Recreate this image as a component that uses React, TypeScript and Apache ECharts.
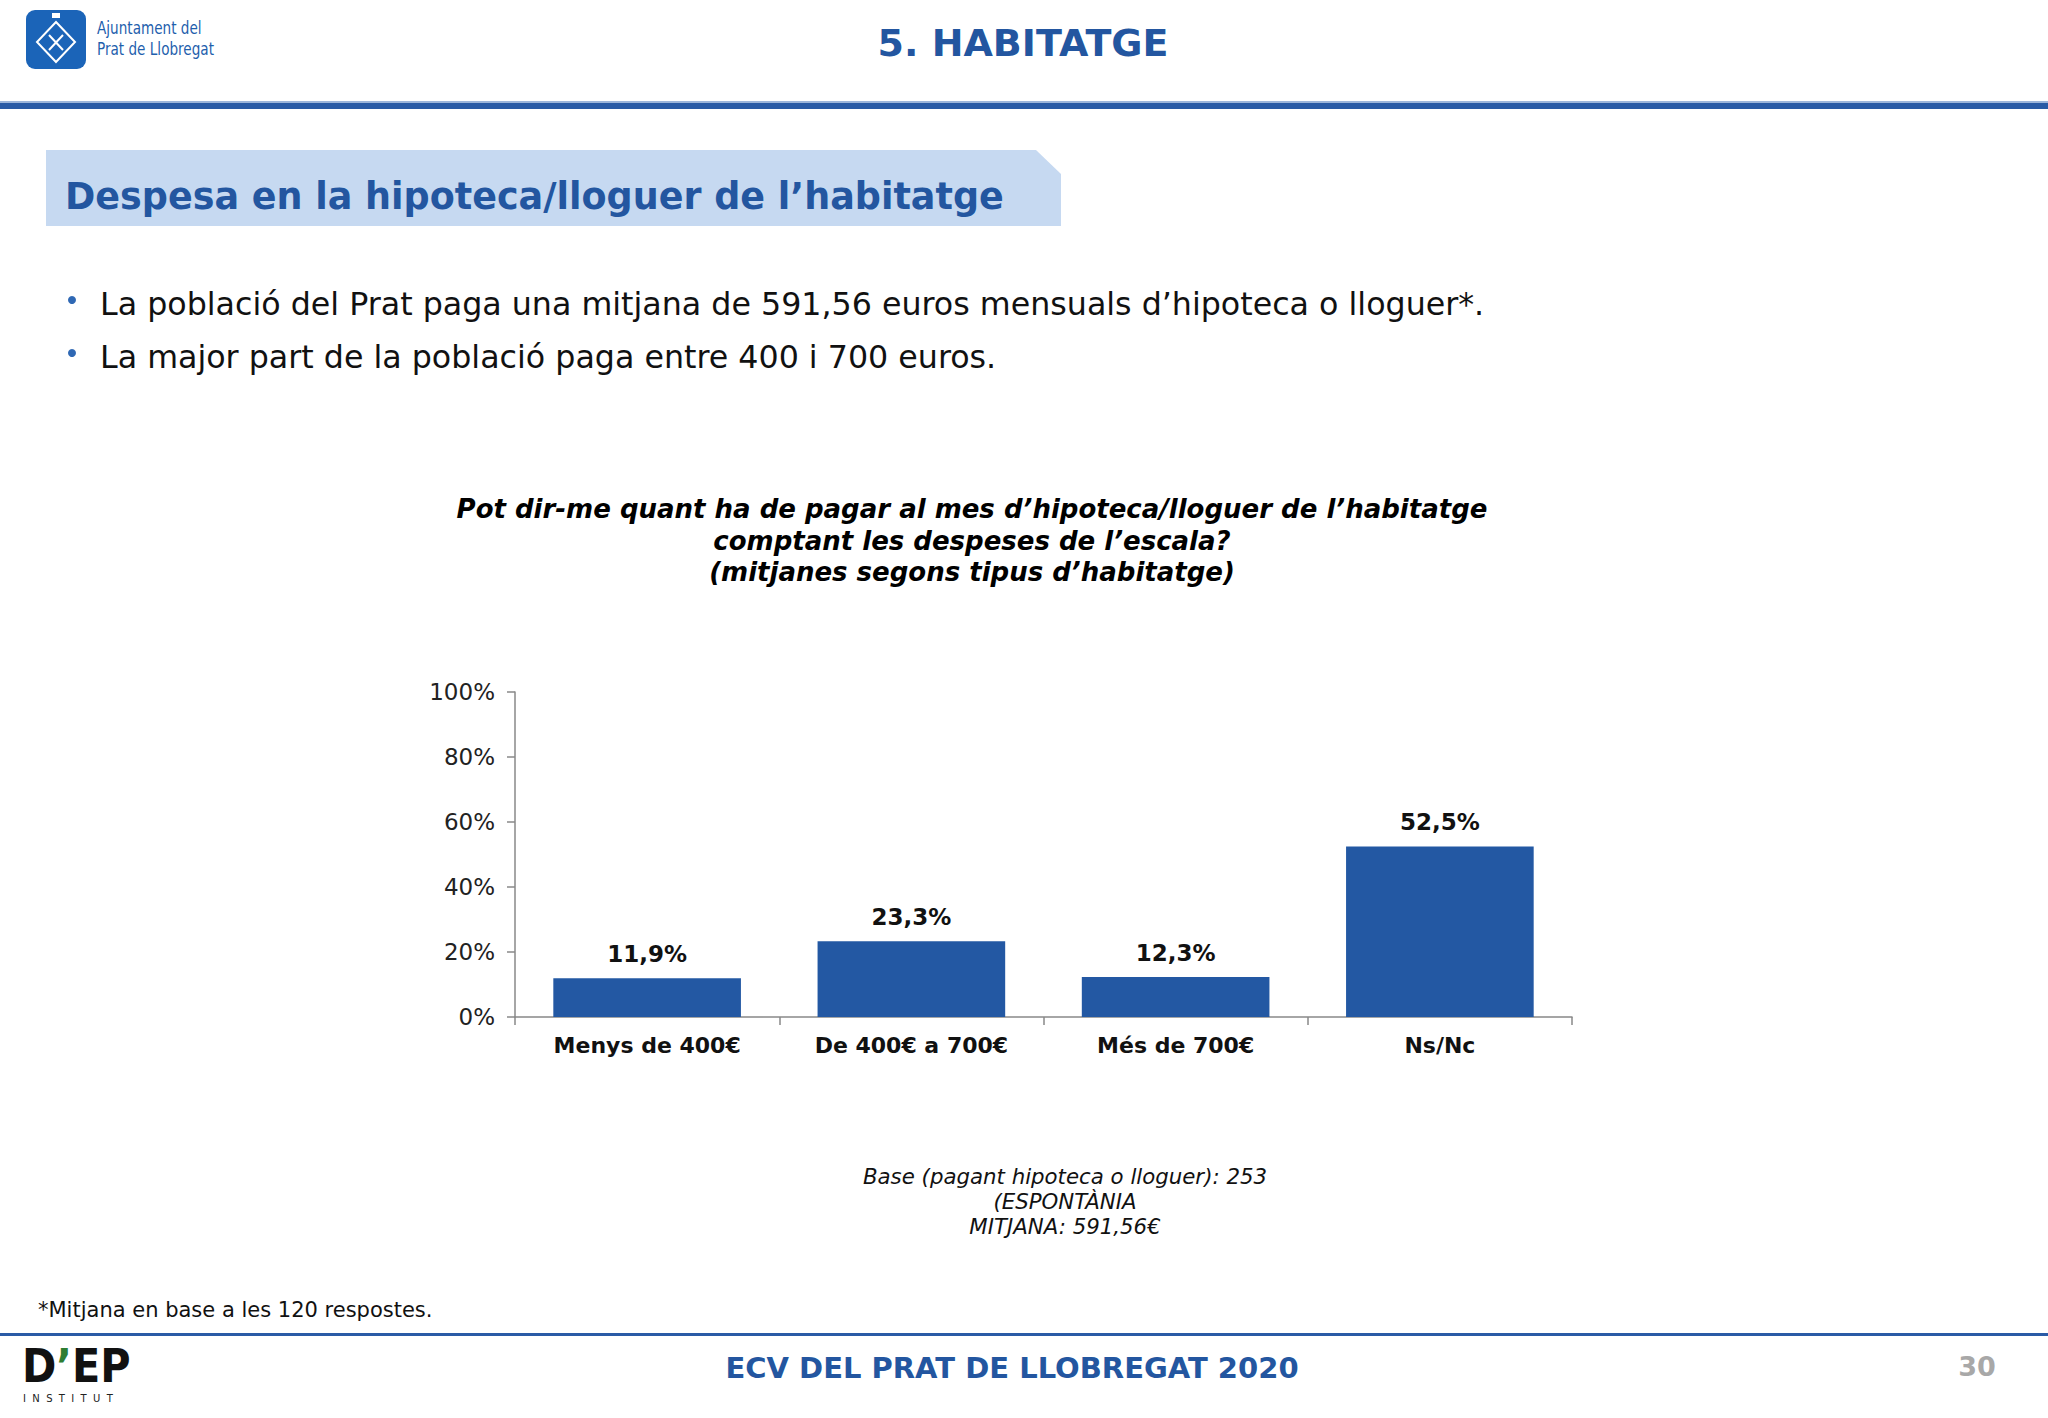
import React, { useEffect, useRef } from "react";
import * as echarts from "echarts";

const categories = ["Menys de 400€", "De 400€ a 700€", "Més de 700€", "Ns/Nc"];
const values = [11.9, 23.3, 12.3, 52.5];
const yTicks = [0, 20, 40, 60, 80, 100];

const headerTitle = "5. HABITATGE";
const sectionTitle = "Despesa en la hipoteca/lloguer de l’habitatge";
const bullets = [
  "La població del Prat paga una mitjana de 591,56 euros mensuals d’hipoteca o lloguer*.",
  "La major part de la població paga entre 400 i 700 euros.",
];
const questionLines = [
  "Pot dir-me quant ha de pagar al mes d’hipoteca/lloguer de l’habitatge",
  "comptant les despeses de l’escala?",
  "(mitjanes segons tipus d’habitatge)",
];
const baseLines = ["Base (pagant hipoteca o lloguer): 253", "(ESPONTÀNIA", "MITJANA: 591,56€"];
const footnote = "*Mitjana en base a les 120 respostes.";
const footerTitle = "ECV DEL PRAT DE LLOBREGAT 2020";
const pageNumber = "30";

const BLUE = "#2358A3";
const FONT = "'DejaVu Sans', Verdana, sans-serif";

export default function App() {
  const ref = useRef<HTMLDivElement>(null);
  useEffect(() => {
    if (!ref.current) return;
    const chart = echarts.init(ref.current, null, { renderer: "svg" });
    const fmt = (v: number) => v.toFixed(1).replace(".", ",") + "%";
    const graphic: any[] = [
      // Ajuntament logo
      { type: "rect", shape: { x: 26, y: 10, width: 60, height: 59, r: 9 }, style: { fill: "#1B64B8" } },
      { type: "polygon", shape: { points: [[56, 22], [75, 42], [56, 62], [37, 42]] }, style: { fill: "none", stroke: "#fff", lineWidth: 2 } },
      { type: "line", shape: { x1: 49, y1: 35, x2: 63, y2: 50 }, style: { stroke: "#fff", lineWidth: 2 } },
      { type: "line", shape: { x1: 63, y1: 35, x2: 49, y2: 50 }, style: { stroke: "#fff", lineWidth: 2 } },
      { type: "rect", shape: { x: 52, y: 13, width: 8, height: 5 }, style: { fill: "#fff" } },
      { type: "text", x: 97, y: 19, scaleX: 0.84, style: { text: "Ajuntament del", font: "18px 'DejaVu Sans Condensed', sans-serif", fill: "#1F5FAD" } },
      { type: "text", x: 97, y: 40, scaleX: 0.84, style: { text: "Prat de Llobregat", font: "18px 'DejaVu Sans Condensed', sans-serif", fill: "#1F5FAD" } },
      // header title
      { type: "text", x: 1023, y: 43, style: { text: headerTitle, font: `bold 38px ${FONT}`, fill: "#2356A0", align: "center", verticalAlign: "middle" } },
      { type: "rect", shape: { x: 0, y: 101, width: 2048, height: 2 }, style: { fill: "#9DB6DB" } },
      { type: "rect", shape: { x: 0, y: 103, width: 2048, height: 6 }, style: { fill: "#2A5BA6" } },
      // section title box
      { type: "polygon", shape: { points: [[46, 150], [1036, 150], [1061, 174], [1061, 226], [46, 226]] }, style: { fill: "#C6D9F1" } },
      { type: "text", x: 65, y: 196, style: { text: sectionTitle, font: `bold 36.5px ${FONT}`, fill: "#2356A0", verticalAlign: "middle" } },
      // bullets
      ...bullets.flatMap((b, i) => [
        { type: "circle", shape: { cx: 72, cy: 300 + i * 53, r: 4 }, style: { fill: "#2F68B4" } },
        { type: "text", x: 100, y: 304 + i * 53, style: { text: b, font: `31.7px ${FONT}`, fill: "#111", verticalAlign: "middle" } },
      ]),
      // chart question
      ...questionLines.map((t, i) => ({
        type: "text", x: 972, y: 509 + i * 31.5,
        style: { text: t, font: `italic bold 26px ${FONT}`, fill: "#000", align: "center", verticalAlign: "middle" },
      })),
      // base note
      ...baseLines.map((t, i) => ({
        type: "text", x: 1065, y: 1176 + i * 25,
        style: { text: t, font: `italic 21.3px ${FONT}`, fill: "#111", align: "center", verticalAlign: "middle" },
      })),
      // footnote
      { type: "text", x: 38, y: 1310, style: { text: footnote, font: `21px ${FONT}`, fill: "#111", verticalAlign: "middle" } },
      // footer line
      { type: "rect", shape: { x: 0, y: 1333, width: 2048, height: 3 }, style: { fill: "#2A5BA6" } },
      { type: "text", x: 1012, y: 1368, style: { text: footerTitle, font: `bold 29px ${FONT}`, fill: "#2356A0", align: "center", verticalAlign: "middle" } },
      { type: "text", x: 1977, y: 1366, style: { text: pageNumber, font: `bold 27px ${FONT}`, fill: "#A8A8A8", align: "center", verticalAlign: "middle" } },
      // D'EP logo
      {
        type: "text", x: 22, y: 1366,
        style: {
          text: "{a|D}{b|’}{a|EP}",
          verticalAlign: "middle",
          rich: {
            a: { font: `bold 46px 'DejaVu Sans Condensed', ${FONT}`, fill: "#111" },
            b: { font: `bold 46px 'DejaVu Sans Condensed', ${FONT}`, fill: "#2E7D32" },
          },
        },
      },
      { type: "text", x: 23, y: 1398, style: { text: "I  N  S  T  I  T  U  T", font: `10px ${FONT}`, fill: "#222", verticalAlign: "middle" } },
    ];

    chart.setOption({
      animation: false,
      backgroundColor: "#fff",
      graphic,
      grid: { left: 515, right: 476, top: 692, bottom: 401, containLabel: false },
      xAxis: {
        type: "category",
        data: categories,
        axisLine: { show: true, lineStyle: { color: "#888", width: 1.5 } },
        axisTick: { show: true, length: 8, lineStyle: { color: "#888", width: 1.5 } },
        axisLabel: { color: "#111", fontFamily: FONT, fontWeight: "bold", fontSize: 22, margin: 17 },
      },
      yAxis: {
        type: "value",
        min: 0,
        max: 100,
        interval: 20,
        axisLine: { show: true, lineStyle: { color: "#888", width: 1.5 } },
        axisTick: { show: true, length: 8, lineStyle: { color: "#888", width: 1.5 } },
        splitLine: { show: false },
        axisLabel: {
          color: "#222", fontFamily: FONT, fontSize: 23, margin: 20,
          formatter: (v: number) => (yTicks.includes(v) ? `${v}%` : ""),
        },
      },
      series: [
        {
          type: "bar",
          data: values,
          barCategoryGap: "29%",
          itemStyle: { color: BLUE },
          label: {
            show: true, position: "top", distance: 13,
            color: "#111", fontFamily: FONT, fontWeight: "bold", fontSize: 23,
            formatter: (p: any) => fmt(p.value),
          },
        },
      ],
    });
    return () => chart.dispose();
  }, []);
  return <div ref={ref} style={{ position: "absolute", left: 0, top: 0, width: 2048, height: 1418 }} />;
}
